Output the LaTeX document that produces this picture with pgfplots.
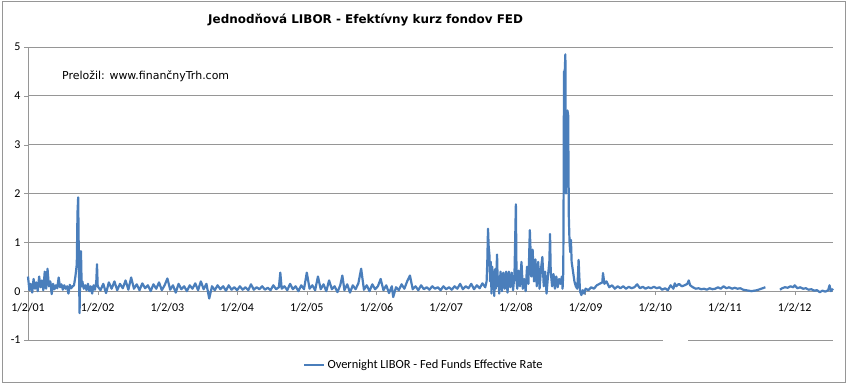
\documentclass[border=0pt]{standalone}
\usepackage{fontspec}
\setmainfont{Carlito}
\newfontfamily\tahoma{DejaVu Sans}
\usepackage{pgfplots}
\pgfplotsset{compat=1.18}
\definecolor{serblue}{RGB}{74,126,187}
\definecolor{gridgray}{RGB}{150,150,150}
\begin{document}
\begin{tikzpicture}
\path[use as bounding box] (-28bp,-44bp) rectangle (819bp,340bp);
\begin{axis}[
  at={(0,0)}, anchor=south west,
  scale only axis, width=805bp, height=293bp,
  xmin=2001, xmax=2012.55, ymin=-1, ymax=5,
  axis x line=middle, axis y line=left,
  hide obscured x ticks=false, hide obscured y ticks=false,
  axis line style={-, draw=gridgray},
  ytick={-1,0,1,2,3,4,5},
  xtick={2001,2002,2003,2004,2005,2006,2007,2008,2009,2010,2011,2012},
  xticklabels={1/2/01,1/2/02,1/2/03,1/2/04,1/2/05,1/2/06,1/2/07,1/2/08,1/2/09,1/2/10,1/2/11,1/2/12},
  ymajorgrids, grid style={draw=gridgray, line width=0.8bp},
  tick align=outside, major tick length=4bp,
  tick style={draw=gridgray},
  /pgf/number format/assume math mode=true,
  ticklabel style={font=\fontsize{12}{14}\selectfont, text=black},
  xticklabel style={yshift=-5bp},
  unbounded coords=jump,
  legend style={at={(axis description cs:0.4919,-0.0853)}, anchor=center, draw=none, fill=none,
    font=\fontsize{12.5}{14}\selectfont, inner sep=0pt},
  legend image code/.code={\draw[#1] (0bp,0bp) -- (20bp,0bp);},
  clip=false,
]
\addplot[serblue, line width=2.2bp, line join=round] table {
2001.00 0.30
2001.02 0.02
2001.04 0.15
2001.06 -0.03
2001.08 0.25
2001.10 0.05
2001.12 0.18
2001.14 0.00
2001.16 0.30
2001.18 0.08
2001.20 0.22
2001.22 0.02
2001.24 0.40
2001.26 0.05
2001.28 0.46
2001.30 0.10
2001.32 0.20
2001.34 -0.06
2001.36 0.15
2001.38 0.04
2001.40 0.12
2001.42 0.06
2001.44 0.28
2001.46 0.08
2001.48 0.14
2001.50 0.03
2001.52 0.12
2001.54 0.05
2001.56 0.10
2001.58 -0.05
2001.60 0.13
2001.62 0.06
2001.64 0.10
2001.66 0.12
2001.68 0.30
2001.70 0.55
2001.71 1.60
2001.72 1.92
2001.73 0.60
2001.74 -0.45
2001.75 0.50
2001.76 0.82
2001.77 0.10
2001.78 0.20
2001.80 0.05
2001.82 0.12
2001.84 0.02
2001.86 0.15
2001.88 0.00
2001.90 0.10
2001.92 -0.05
2001.94 0.12
2001.96 0.03
2001.98 0.20
2001.99 0.55
2002.00 0.10
2002.04 0.02
2002.08 0.15
2002.12 -0.04
2002.16 0.18
2002.20 0.05
2002.24 0.20
2002.28 0.02
2002.32 0.15
2002.36 0.06
2002.40 0.22
2002.44 0.03
2002.48 0.28
2002.52 0.05
2002.56 0.14
2002.60 0.02
2002.64 0.16
2002.68 0.06
2002.72 0.12
2002.76 0.00
2002.80 0.14
2002.84 0.05
2002.88 0.18
2002.92 0.02
2002.96 0.12
2003.00 0.26
2003.04 0.03
2003.08 0.12
2003.12 -0.03
2003.16 0.15
2003.20 0.04
2003.24 0.10
2003.28 0.00
2003.32 0.12
2003.36 0.05
2003.40 0.16
2003.44 0.02
2003.48 0.20
2003.52 0.04
2003.56 0.15
2003.60 -0.15
2003.64 0.10
2003.68 0.02
2003.72 0.12
2003.76 0.04
2003.80 0.10
2003.84 0.01
2003.88 0.12
2003.92 0.03
2003.96 0.08
2004.00 0.02
2004.04 0.10
2004.08 0.03
2004.12 0.08
2004.16 0.02
2004.20 0.14
2004.24 0.03
2004.28 0.08
2004.32 0.04
2004.36 0.10
2004.40 0.03
2004.44 0.07
2004.48 0.02
2004.52 0.12
2004.56 0.04
2004.60 0.08
2004.62 0.38
2004.64 0.05
2004.68 0.10
2004.72 0.02
2004.76 0.15
2004.80 0.04
2004.84 0.10
2004.88 0.00
2004.92 0.12
2004.96 0.04
2005.00 0.38
2005.04 0.05
2005.08 0.12
2005.12 0.02
2005.16 0.30
2005.20 0.04
2005.24 0.14
2005.28 0.00
2005.32 0.22
2005.36 0.04
2005.40 0.10
2005.44 -0.02
2005.48 0.12
2005.51 0.32
2005.54 0.02
2005.58 0.14
2005.62 -0.03
2005.66 0.12
2005.70 0.04
2005.74 0.16
2005.78 0.46
2005.82 0.03
2005.86 0.12
2005.90 0.00
2005.94 0.14
2005.98 0.04
2006.02 0.10
2006.06 0.25
2006.10 0.02
2006.14 0.12
2006.18 -0.04
2006.22 0.10
2006.24 -0.12
2006.28 0.08
2006.32 0.02
2006.36 0.14
2006.40 0.05
2006.44 0.20
2006.48 0.32
2006.52 0.04
2006.56 0.10
2006.60 0.02
2006.64 0.12
2006.68 0.04
2006.72 0.08
2006.76 0.03
2006.80 0.10
2006.84 0.05
2006.88 0.08
2006.92 0.02
2006.96 0.10
2007.00 0.04
2007.04 0.08
2007.08 0.03
2007.12 0.10
2007.16 0.05
2007.20 0.15
2007.24 0.04
2007.28 0.10
2007.32 0.06
2007.36 0.15
2007.40 0.04
2007.44 0.12
2007.48 0.06
2007.52 0.16
2007.56 0.08
2007.58 0.20
2007.59 0.60
2007.60 1.28
2007.61 0.90
2007.62 0.75
2007.63 0.20
2007.64 0.60
2007.65 -0.05
2007.66 0.50
2007.67 0.10
2007.68 0.40
2007.69 -0.10
2007.70 0.45
2007.71 0.05
2007.72 0.35
2007.73 0.75
2007.74 0.10
2007.75 0.30
2007.76 -0.05
2007.78 0.40
2007.80 0.00
2007.82 0.38
2007.84 0.05
2007.86 0.40
2007.88 -0.03
2007.90 0.40
2007.92 0.08
2007.94 0.38
2007.96 0.02
2007.98 0.35
2008.00 1.78
2008.01 0.20
2008.02 0.05
2008.04 0.42
2008.06 0.10
2008.08 0.60
2008.10 0.05
2008.12 0.25
2008.14 0.00
2008.16 0.50
2008.18 0.15
2008.20 1.25
2008.21 0.85
2008.22 0.30
2008.24 0.85
2008.26 0.20
2008.28 0.65
2008.30 0.10
2008.32 0.60
2008.34 0.05
2008.36 0.45
2008.38 0.70
2008.40 0.10
2008.42 0.40
2008.44 -0.05
2008.46 0.30
2008.48 0.60
2008.49 1.17
2008.50 0.40
2008.52 0.10
2008.54 0.35
2008.56 0.05
2008.58 0.30
2008.60 0.08
2008.62 0.25
2008.64 0.15
2008.66 0.30
2008.67 0.05
2008.68 0.40
2008.685 2.00
2008.69 4.50
2008.70 4.45
2008.71 4.85
2008.72 2.00
2008.73 3.00
2008.74 3.70
2008.75 3.60
2008.76 1.50
2008.77 1.00
2008.78 0.80
2008.79 1.05
2008.80 0.60
2008.82 0.40
2008.84 0.20
2008.86 0.10
2008.88 0.05
2008.89 0.30
2008.90 0.64
2008.91 0.30
2008.92 0.00
2008.94 -0.08
2008.96 0.02
2008.98 -0.05
2009.00 0.05
2009.04 0.02
2009.08 0.08
2009.12 0.05
2009.16 0.12
2009.20 0.15
2009.24 0.18
2009.25 0.37
2009.27 0.15
2009.30 0.20
2009.34 0.08
2009.38 0.12
2009.42 0.05
2009.46 0.10
2009.50 0.06
2009.54 0.10
2009.58 0.05
2009.62 0.09
2009.66 0.06
2009.70 0.08
2009.74 0.14
2009.78 0.06
2009.82 0.09
2009.86 0.05
2009.90 0.08
2009.94 0.06
2009.98 0.09
2010.02 0.06
2010.06 0.08
2010.10 0.03
2010.14 0.06
2010.18 0.02
2010.22 0.12
2010.26 0.05
2010.28 0.16
2010.30 0.10
2010.34 0.15
2010.38 0.10
2010.42 0.12
2010.46 0.15
2010.48 0.22
2010.50 0.12
2010.54 0.08
2010.58 0.05
2010.62 0.06
2010.66 0.04
2010.70 0.05
2010.74 0.03
2010.78 0.06
2010.82 0.04
2010.86 0.05
2010.90 0.08
2010.94 0.05
2010.98 0.10
2011.02 0.06
2011.06 0.08
2011.10 0.05
2011.14 0.07
2011.18 0.05
2011.22 0.06
2011.26 0.03
2011.30 0.02
2011.34 0.01
2011.38 0.00
2011.42 0.01
2011.46 0.02
2011.50 0.04
2011.54 0.06
2011.58 0.08
2011.60 nan
2011.79 0.03
2011.82 0.06
2011.86 0.08
2011.90 0.07
2011.94 0.10
2011.98 0.08
2012.00 0.12
2012.04 0.06
2012.08 0.08
2012.12 0.05
2012.16 0.06
2012.20 0.03
2012.24 0.04
2012.28 0.01
2012.32 0.02
2012.36 -0.02
2012.40 0.01
2012.44 -0.01
2012.48 0.02
2012.50 0.12
2012.52 0.00
2012.55 0.05
};
\addlegendentry{Overnight LIBOR - Fed Funds Effective Rate}
\end{axis}
\fill[white] (635bp,-3bp) rectangle (660bp,3bp);
\draw[gridgray, line width=0.8bp] (-26bp,-42bp) rectangle (817bp,339bp);
\node[font=\tahoma\bfseries\fontsize{12}{14}\selectfont, anchor=west, inner sep=0pt] at (180bp,320bp) {Jednodňová LIBOR - Efektívny kurz fondov FED};
\node[font=\tahoma\fontsize{11}{13}\selectfont, anchor=west, inner sep=0pt] at (34bp,264bp) {Preložil: www.finančnyTrh.com};
\end{tikzpicture}
\end{document}
